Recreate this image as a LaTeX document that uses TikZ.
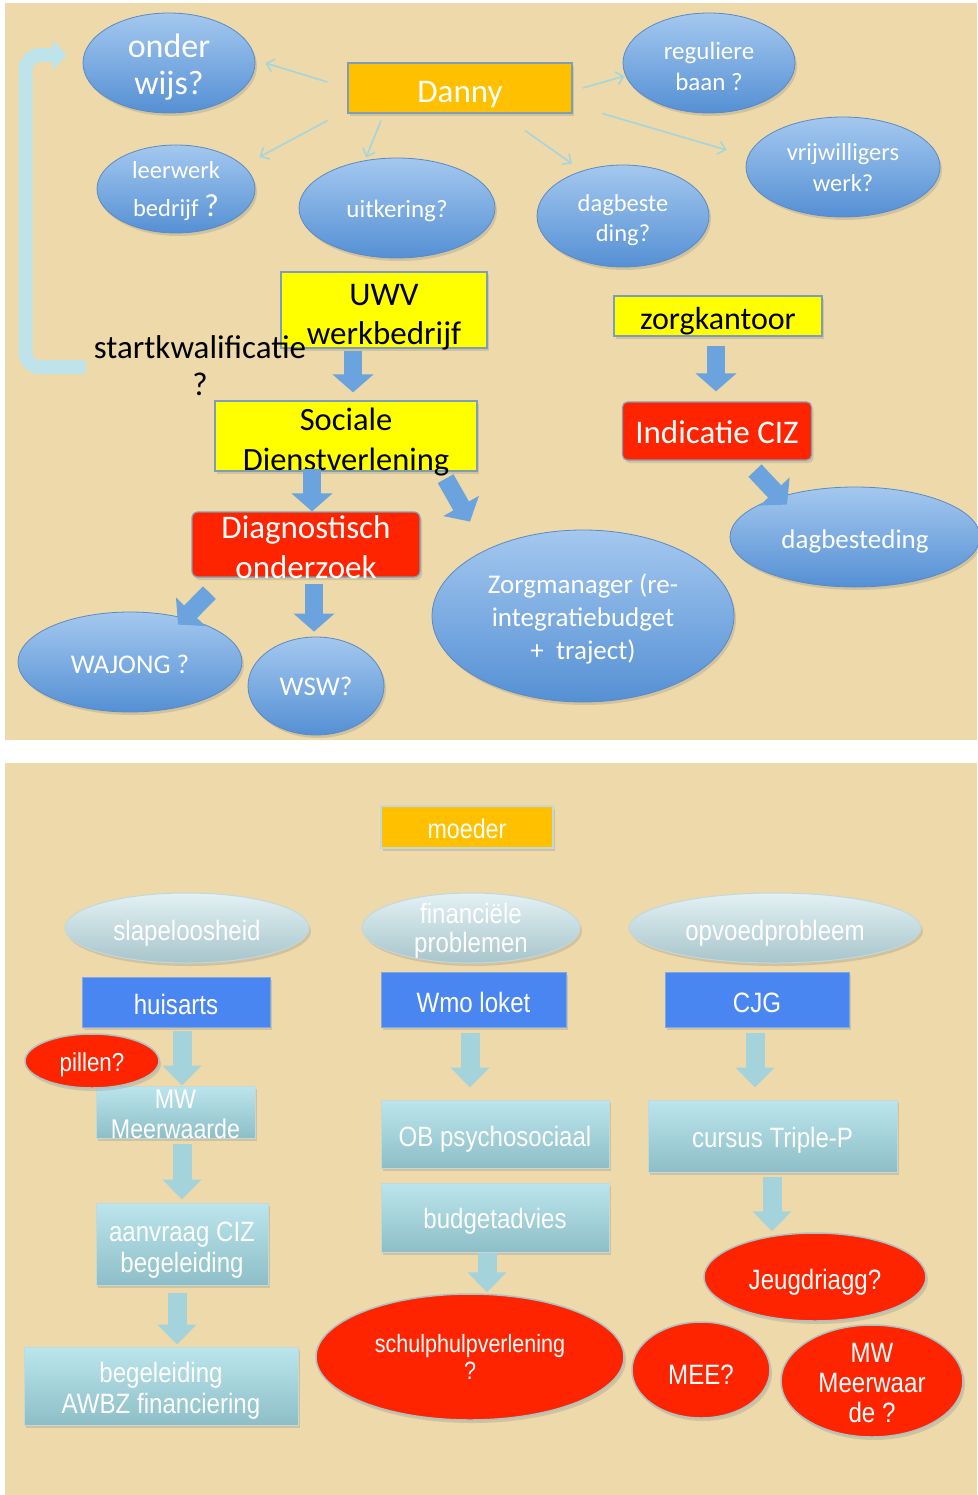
\documentclass[tikz,border=0pt]{standalone}
\usepackage{fontspec}
\setmainfont{Carlito}
\newfontfamily\arn[FakeStretch=0.86]{Liberation Sans}
\usetikzlibrary{shapes.geometric,arrows.meta,calc,shadows}
\definecolor{bgtan}{HTML}{EDD9A9}
\definecolor{orng}{HTML}{FFC000}
\definecolor{yel}{HTML}{FFFF00}
\definecolor{boxbd}{HTML}{7F9CB8}
\definecolor{redc}{HTML}{FF2400}
\definecolor{elltop}{HTML}{A4C8EF}
\definecolor{ellbot}{HTML}{5590D4}
\definecolor{ellbd}{HTML}{5A8AC6}
\definecolor{thinc}{HTML}{A6D6DC}
\definecolor{brc}{HTML}{BEE3EA}
\definecolor{barc}{HTML}{6AA3DD}
\definecolor{gtop}{HTML}{E3F1F4}
\definecolor{gbot}{HTML}{A7C5CB}
\definecolor{gbd}{HTML}{C3D8DB}
\definecolor{bbox}{HTML}{4A86F2}
\definecolor{bbd}{HTML}{7FA6E6}
\definecolor{ctop}{HTML}{BCE5ED}
\definecolor{cbot}{HTML}{8DBEC7}
\definecolor{carc}{HTML}{A5D3DB}
\definecolor{rbd}{HTML}{A9C3C4}
\newcommand{\fsz}[2]{\fontsize{#1}{#2}\selectfont}
\newcommand{\ovt}[2]{\smash{\raisebox{#1}{\begin{tabular}[t]{@{}c@{}}#2\end{tabular}}}}
\tikzset{
  shad/.style={drop shadow={shadow xshift=2pt,shadow yshift=-3pt,opacity=0.25}},
  ell/.style={ellipse, inner sep=0pt, draw=ellbd, line width=0.8pt, top color=elltop, bottom color=ellbot, text=white, align=center, shad},
  ybox/.style={rectangle, inner sep=0pt, draw=boxbd, line width=1.2pt, align=center, shad},
  thinarr/.style={draw=thinc, line width=1.6pt, -{Straight Barb[length=7pt,width=13pt]}},
  barrow/.style={draw=barc, line width=18pt, -{Triangle[length=18pt,width=40pt]}},
  carrow/.style={draw=carc, line width=19pt, -{Triangle[length=20pt,width=38pt]}},
  bracket/.style={draw=brc, line width=14pt, rounded corners=14pt, -{Triangle[length=14pt,width=30pt]}},
  gell/.style={ellipse, inner sep=0pt, draw=gbd, line width=1pt, top color=gtop, bottom color=gbot, text=white, font=\arn\fsz{28}{29}, shad},
  bbx/.style={rectangle, inner sep=0pt, fill=bbox, draw=bbd, line width=1pt, text=white, font=\arn\fsz{28}{31}, shad},
  cbx/.style={rectangle, inner sep=0pt, top color=ctop, bottom color=cbot, draw=gbd, line width=1pt, text=white, font=\arn\fsz{28}{31}, shad},
  rell/.style={ellipse, inner sep=0pt, fill=redc, draw=rbd, line width=1.5pt, text=white, font=\arn\fsz{28}{30}, shad}
}
\begin{document}
\begin{tikzpicture}[x=1pt,y=-1pt]
\useasboundingbox (0,0) rectangle (977,1495);
\fill[white] (0,0) rectangle (977,1495);
\fill[bgtan] (5,3) rectangle (977,740);
\fill[bgtan] (5,763) rectangle (977,1495);

% ---------- top panel ----------
\node[ell, minimum width=172, minimum height=100, font=\fsz{34}{37}] (onder) at (169,63) {\ovt{5pt}{onder\\wijs?}};
\node[ybox, fill=orng, minimum width=224, minimum height=50, text=white, font=\fsz{33}{36}] (danny) at (460,88) {\ovt{-15pt}{Danny}};
\node[ell, minimum width=172, minimum height=100, font=\fsz{25}{31}] (reg) at (709,63) {\ovt{3pt}{reguliere\\baan ?}};
\node[ell, minimum width=158, minimum height=88, font=\fsz{24.5}{38}] (leer) at (176,189) {\ovt{10pt}{leerwerk\\bedrijf {\fsz{32}{38}?}}};
\node[ell, minimum width=196, minimum height=100, font=\fsz{25}{30}] (uitk) at (397,208) {\ovt{-10pt}{uitkering?}};
\node[ell, minimum width=172, minimum height=102, font=\fsz{24.5}{30}] (dagb) at (623,216) {\ovt{4pt}{dagbeste\\ding?}};
\node[ell, minimum width=194, minimum height=100, font=\fsz{24.5}{31}] (vrij) at (843,167) {\ovt{6pt}{vrijwilligers\\werk?}};
\node[ybox, fill=yel, minimum width=206, minimum height=76, font=\fsz{33}{40}] (uwv) at (384,310) {\ovt{5pt}{UWV\\werkbedrijf}};
\node[inner sep=0pt, font=\fsz{33}{37}] (sk) at (200,358) {\ovt{0pt}{startkwalificatie\\?}};
\node[ybox, fill=yel, minimum width=208, minimum height=40, font=\fsz{32}{34}] (zorg) at (718,316) {\ovt{-14pt}{zorgkantoor}};
\node[ybox, fill=redc, rounded corners=5pt, minimum width=189, minimum height=58, text=white, font=\fsz{33}{36}] (ind) at (717,431) {\ovt{-12pt}{Indicatie CIZ}};
\node[ybox, fill=yel, minimum width=262, minimum height=70, font=\fsz{32.5}{40}] (soc) at (346,436) {\ovt{6pt}{Sociale\\Dienstverlening}};
\node[ybox, fill=redc, rounded corners=6pt, minimum width=228, minimum height=65, text=white, font=\fsz{33}{40}] (diag) at (306,544.5) {\ovt{6pt}{Diagnostisch\\onderzoek}};
\node[ell, minimum width=250, minimum height=100, font=\fsz{27}{30}] (dagbst) at (855,537) {\ovt{-11pt}{dagbesteding}};
\node[ell, minimum width=302, minimum height=172, font=\fsz{27}{33}] (zm) at (583,616) {\ovt{23pt}{Zorgmanager (re-\\integratiebudget\\+\ \ traject)}};
\node[ell, minimum width=224, minimum height=100, font=\fsz{27}{30}] (waj) at (130,662) {\ovt{-11pt}{WAJONG ?}};
\node[ell, minimum width=136, minimum height=98, font=\fsz{27}{30}] (wsw) at (316,686) {\ovt{-9pt}{WSW?}};

% thin arrows from Danny
\draw[thinarr] ($(danny.west)+(-20,-6)$) -- ($(onder.east)+(10,0)$);
\draw[thinarr] ($(danny.south west)+(-20,7)$) -- ($(leer.east)+(4,-32)$);
\draw[thinarr] ($(danny.south)+(-79,7)$) -- ($(uitk.north)+(-31,0)$);
\draw[thinarr] ($(danny.south)+(65,17)$) -- ($(dagb.north)+(-51,-1)$);
\draw[thinarr] ($(danny.east)+(10,0)$) -- ($(reg.west)+(2,13)$);
\draw[thinarr] ($(danny.south east)+(30,0)$) -- ($(vrij.west)+(-19,-17)$);

% bracket arrow
\draw[bracket] ($(sk.west)+(-8,9)$) -| ($(onder.west)+(-57,-8)$) -- ($(onder.west)+(-16,-8)$);

% block arrows
\draw[barrow] ($(uwv.south)+(-31,2)$) -- ($(soc.north)+(7,-8)$);
\draw[barrow] ($(zorg.south)+(-2,9)$) -- ($(ind.north)+(-1,-10)$);
\draw[barrow] ($(soc.south)+(-34,-3)$) -- ($(diag.north)+(6,0)$);
\draw[barrow] ($(soc.south east)+(-32,7)$) -- ($(zm.north)+(-113,-8)$);
\draw[barrow] ($(diag.south west)+(18,15)$) -- ($(waj.north)+(48,13)$);
\draw[barrow] ($(diag.south)+(8,6)$) -- ($(wsw.north)+(-2,-5)$);
\draw[barrow] ($(ind.south)+(38,10)$) -- ($(dagbst.north)+(-68,18)$);

% ---------- bottom panel ----------
\node[ybox, fill=orng, draw=gbd, minimum width=172, minimum height=42, text=white, font=\arn\fsz{27}{30}] (moeder) at (467,827) {\ovt{-11pt}{moeder}};
\node[gell, minimum width=244, minimum height=70] (slaap) at (187,928) {\ovt{-12pt}{slapeloosheid}};
\node[gell, minimum width=218, minimum height=70] (fin) at (471,928) {\ovt{5pt}{financiële\\problemen}};
\node[gell, minimum width=292, minimum height=70] (opv) at (775,928) {\ovt{-12pt}{opvoedprobleem}};
\node[bbx, minimum width=188, minimum height=50] (huis) at (176,1002) {\ovt{-12pt}{huisarts}};
\node[bbx, minimum width=185, minimum height=55] (wmo) at (473.5,999.5) {\ovt{-12.5pt}{Wmo loket}};
\node[bbx, minimum width=184, minimum height=55] (cjg) at (757,999.5) {\ovt{-12.5pt}{CJG}};
\node[cbx, minimum width=159, minimum height=52, font=\arn\fsz{27}{30}] (mw) at (175.5,1112) {\ovt{4pt}{MW\\Meerwaarde}};
\node[cbx, minimum width=172, minimum height=82] (aanv) at (182,1244) {\ovt{3pt}{aanvraag CIZ\\begeleiding}};
\node[cbx, minimum width=274, minimum height=78] (awbz) at (161,1386) {\ovt{4pt}{begeleiding\\AWBZ financiering}};
\node[cbx, minimum width=228, minimum height=68] (ob) at (495,1134) {\ovt{-12pt}{OB psychosociaal}};
\node[cbx, minimum width=228, minimum height=69] (budget) at (495,1217.5) {\ovt{-10.5pt}{budgetadvies}};
\node[cbx, minimum width=249, minimum height=72] (triple) at (772.5,1136) {\ovt{-11pt}{cursus Triple-P}};
\node[rell, minimum width=134, minimum height=54, font=\arn\fsz{26}{30}] (pil) at (92,1061) {\ovt{-10pt}{pillen?}};
\node[rell, minimum width=308, minimum height=126, font=\arn\fsz{25}{27}] (schulp) at (470,1357) {\ovt{5pt}{schulphulpverlening\\?}};
\node[rell, minimum width=222, minimum height=88] (jeugd) at (815,1277) {\ovt{-12pt}{Jeugdriagg?}};
\node[rell, minimum width=138, minimum height=96] (mee) at (701,1370) {\ovt{-14pt}{MEE?}};
\node[rell, minimum width=182, minimum height=112] (mw2) at (872,1381) {\ovt{19pt}{MW\\Meerwaar\\de ?}};

\draw[carrow] ($(huis.south)+(6,3)$) -- ($(mw.north)+(6.5,0)$);
\draw[carrow] ($(mw.south)+(6.5,5)$) -- ($(aanv.north)+(0,-3)$);
\draw[carrow] ($(aanv.south)+(-5,7)$) -- ($(awbz.north)+(16,-2)$);
\draw[carrow] ($(wmo.south)+(-3.5,5)$) -- ($(ob.north)+(-25,-12)$);
\draw[carrow] ($(budget.south)+(-8,0)$) -- ($(schulp.north)+(17,-1)$);
\draw[carrow] ($(cjg.south)+(-2,5)$) -- ($(triple.north)+(-17.5,-12)$);
\draw[carrow] ($(triple.south)+(-0.5,4)$) -- ($(jeugd.north)+(-43,-1)$);
\end{tikzpicture}
\end{document}
